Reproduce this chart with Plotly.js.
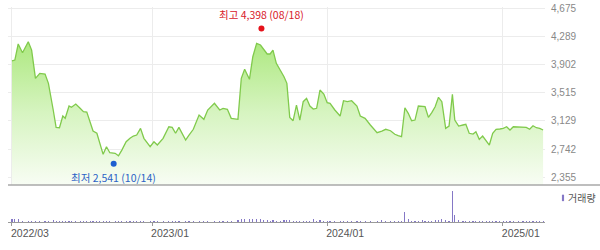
<!DOCTYPE html>
<html><head><meta charset="utf-8">
<script src="https://cdn.plot.ly/plotly-3.0.1.min.js"></script>
<style>html,body{margin:0;padding:0;background:#fff;}#chart{width:600px;height:250px;}</style>
</head><body><div id="chart"></div>
<script>
const dates = [
"2022-03-16","2022-03-22","2022-03-29","2022-04-07","2022-04-19","2022-04-26","2022-05-04","2022-05-13","2022-05-24","2022-05-31",
"2022-06-10","2022-06-16","2022-06-23","2022-06-30","2022-07-05","2022-07-13","2022-07-18","2022-07-27","2022-08-05","2022-08-12",
"2022-08-19","2022-08-26","2022-09-01","2022-09-09","2022-09-15","2022-09-22","2022-09-29","2022-10-06","2022-10-17","2022-10-24",
"2022-10-31","2022-11-09","2022-11-17","2022-11-24","2022-12-01","2022-12-09","2022-12-16","2022-12-29","2023-01-06","2023-01-13",
"2023-01-25","2023-02-06","2023-02-13","2023-02-20","2023-02-27","2023-03-13","2023-03-20","2023-03-29","2023-04-10","2023-04-20",
"2023-04-28","2023-05-12","2023-05-23","2023-05-30","2023-06-08","2023-06-16","2023-06-30","2023-07-07","2023-07-14","2023-07-24",
"2023-07-31","2023-08-08","2023-08-16","2023-08-22","2023-08-30","2023-09-05","2023-09-11","2023-09-18","2023-09-26","2023-10-04",
"2023-10-10","2023-10-16","2023-10-23","2023-10-30","2023-11-06","2023-11-13","2023-11-20","2023-11-27","2023-12-04","2023-12-11",
"2023-12-18","2023-12-26","2024-01-02","2024-01-08","2024-01-18","2024-01-29","2024-02-05","2024-02-13","2024-02-22","2024-03-04",
"2024-03-11","2024-03-21","2024-04-01","2024-04-15","2024-04-25","2024-05-03","2024-05-13","2024-05-22","2024-05-29","2024-06-05",
"2024-06-12","2024-06-19","2024-06-26","2024-07-03","2024-07-10","2024-07-19","2024-07-24","2024-07-31","2024-08-07","2024-08-14",
"2024-08-21","2024-08-28","2024-09-05","2024-09-12","2024-09-19","2024-09-24","2024-10-02","2024-10-11","2024-10-17","2024-10-24",
"2024-11-01","2024-11-07","2024-11-14","2024-11-21","2024-11-29","2024-12-05","2024-12-12","2024-12-19","2024-12-27","2025-01-03",
"2025-01-10","2025-01-17","2025-01-24","2025-02-03","2025-02-13","2025-02-20","2025-02-27","2025-03-06","2025-03-13","2025-03-20",
"2025-03-27"];
const closes = [
3955,3965,4185,4065,4216,4102,3714,3782,3773,3645,
3279,3041,3036,3196,3165,3334,3316,3361,3302,3255,
3251,3096,2990,2959,2821,2670,2775,2692,2684,2651,
2729,2843,2890,2922,2935,3027,2890,2775,2843,2798,
2890,3049,3041,2959,3041,2867,2935,3014,3210,3151,
3279,3371,3279,3302,3288,3165,3151,3714,3838,3700,
4010,4194,4171,4112,4048,4048,4102,3920,3828,3736,
3645,3178,3132,3347,3141,3393,3439,3334,3292,3302,
3553,3498,3379,3371,3279,3196,3406,3393,3406,3334,
3196,3165,3073,2967,2990,3014,2994,2946,2926,2912,
3310,3233,3132,3141,3334,3334,3324,3178,3242,3324,
3453,3393,3027,3059,3494,3141,3059,3073,3082,2959,
2949,2981,2876,2922,2857,2798,2959,3014,3018,3027,
3049,3004,3049,3049,3049,3041,3014,3063,3036,3027,
3004];
const volumes = [
32000,30000,27000,14000,12000,11000,13000,12000,10000,11000,
15000,13000,11000,12000,10000,11000,9000,10000,11000,9000,
10000,12000,11000,10000,13000,12000,10000,11000,9000,12000,
10000,11000,10000,9000,12000,10000,9000,11000,10000,12000,
11000,13000,10000,11000,12000,10000,11000,12000,14000,11000,
12000,13000,11000,12000,10000,11000,24000,30000,32000,26000,
30000,28000,25000,22000,18000,14000,16000,13000,14000,15000,
16000,18000,14000,13000,12000,14000,12000,11000,30000,13000,
15000,12000,11000,12000,10000,11000,13000,12000,11000,10000,
11000,12000,10000,11000,22000,12000,10000,11000,10000,12000,
100000,30000,14000,12000,13000,15000,12000,14000,13000,18000,
22000,25000,16000,14000,310000,70000,18000,14000,13000,12000,
11000,12000,10000,11000,10000,12000,11000,10000,9000,11000,
10000,12000,11000,10000,12000,11000,10000,12000,11000,10000,
11000];
const highDate = "2023-08-18", highValue = 4398, highLabel = "최고 4,398 (08/18)";
const lowDate = "2022-10-14", lowValue = 2541, lowLabel = "최저 2,541 (10/14)";
const yTicks = [2355,2742,3129,3515,3902,4289,4675];
const xTickVals = ["2022-03-16","2023-01-02","2024-01-02","2025-01-02"];
const xTickText = ["2022/03","2023/01","2024/01","2025/01"];
const volumeName = "거래량";

const FONT = "'Liberation Sans', Arial, 'Noto Sans CJK KR', sans-serif";
const KFONT = "'Noto Sans CJK KR', 'Liberation Sans', sans-serif";
const xRange = ["2022-03-07 18:00","2025-03-31 00:00"];

const traces = [
  {x: dates, y: closes, type: "scatter", mode: "lines", fill: "tozeroy",
   line: {color: "#80ca4c", width: 1.3},
   fillgradient: {type: "vertical", start: 2249, stop: 4250,
     colorscale: [[0, "rgba(248,253,244,1)"], [0.5, "rgba(214,244,192,1)"], [1, "rgba(172,232,126,1)"]]},
   xaxis: "x", yaxis: "y", hoverinfo: "skip"},
  {x: [highDate], y: [highValue], type: "scatter", mode: "markers",
   marker: {color: "#e5121b", size: 6}, xaxis: "x", yaxis: "y", cliponaxis: false},
  {x: [lowDate], y: [lowValue], type: "scatter", mode: "markers",
   marker: {color: "#1d5fd0", size: 6}, xaxis: "x", yaxis: "y", cliponaxis: false},
  {x: dates, y: volumes, type: "bar", name: volumeName,
   marker: {color: "#8578c6", line: {width: 0}}, width: 2.4*86400000,
   xaxis: "x2", yaxis: "y2"}
];

const layout = {
  width: 600, height: 250,
  margin: {l: 8, r: 55, t: 7, b: 28},
  paper_bgcolor: "#fff", plot_bgcolor: "rgba(0,0,0,0)",
  showlegend: false, bargap: 0,
  font: {family: FONT, size: 10, color: "#666"},
  xaxis: {type: "date", range: xRange, domain: [0, 1], anchor: "y",
    tickmode: "array", tickvals: xTickVals, showticklabels: false,
    showgrid: true, gridcolor: "#ececec", gridwidth: 1, zeroline: false, showline: false, ticks: ""},
  yaxis: {domain: [0.172, 1], range: [2249, 4693], side: "right",
    tickmode: "array", tickvals: yTicks, tickformat: ",d",
    showgrid: true, gridcolor: "#ececec", gridwidth: 1, zeroline: false, showline: false,
    ticks: "", ticklabelstandoff: 5, tickfont: {family: FONT, size: 10, color: "#888"}},
  xaxis2: {type: "date", range: xRange, domain: [0, 1], anchor: "y2", matches: "x",
    tickmode: "array", tickvals: xTickVals, ticktext: xTickText,
    showgrid: false, zeroline: false, showline: true, linecolor: "#9a9a9a", linewidth: 1,
    ticks: "outside", ticklen: 3, tickcolor: "#9a9a9a", tickwidth: 1,
    ticklabelstandoff: -2, ticklabelshift: 18, tickfont: {family: FONT, size: 10.5, color: "#555"}},
  yaxis2: {domain: [0, 0.149], range: [0, 320000], showticklabels: false,
    showgrid: false, zeroline: false, showline: false, ticks: ""},
  shapes: [
    {type: "line", xref: "paper", yref: "paper", x0: 0, x1: 1.1025, y0: 0.172, y1: 0.172,
     line: {color: "#a8a8a8", width: 1.5}},
    {type: "rect", xref: "paper", yref: "paper", x0: 1.0315, x1: 1.0355, y0: 0.097, y1: 0.127,
     fillcolor: "#8578c6", line: {width: 0}}
  ],
  annotations: [
    {x: highDate, y: highValue, xref: "x", yref: "y", text: highLabel, showarrow: false,
     yanchor: "bottom", yshift: 4, font: {family: KFONT, size: 10.5, color: "#d8202a"}},
    {x: lowDate, y: lowValue, xref: "x", yref: "y", text: lowLabel, showarrow: false,
     yanchor: "top", yshift: -4, font: {family: KFONT, size: 10.5, color: "#2b63c6"}},
    {x: 1.039, y: 0.112, xref: "paper", yref: "paper", text: volumeName, showarrow: false,
     xanchor: "left", yanchor: "middle", font: {family: KFONT, size: 10, color: "#555"}}
  ]
};

Plotly.newPlot("chart", traces, layout, {staticPlot: true, displayModeBar: false});
</script></body></html>
